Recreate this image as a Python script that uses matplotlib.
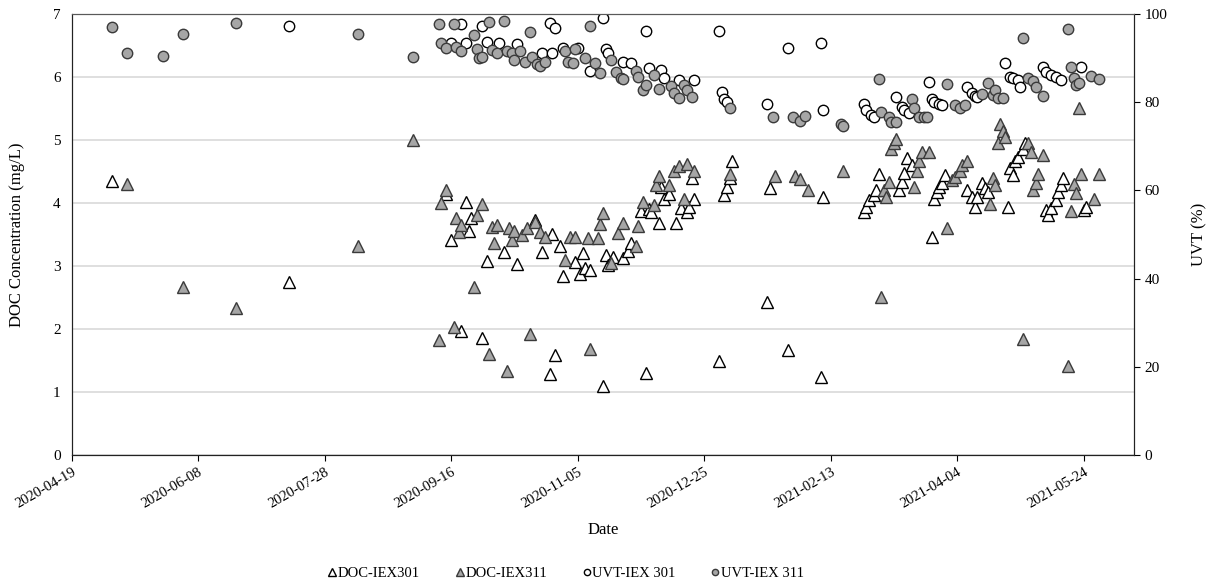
## Module imports
import numpy as np
import pandas as pd
import matplotlib
matplotlib.use('Agg')
import matplotlib.pyplot as plt
import matplotlib.dates as mdates

plt.rcParams['font.family'] = ['Liberation Serif', 'DejaVu Serif']

## Data (sampling day counted from 2020-04-19)
t0 = pd.Timestamp('2020-04-19')

doc301_day = [16, 86, 148, 156, 150, 157, 158, 154, 162, 164, 171, 176, 183, 186, 189, 190, 191, 193,
              194, 199, 201, 202, 203, 205, 210, 211, 212, 214, 218, 220, 221, 225, 227, 228, 229, 232,
              233, 234, 236, 239, 241, 243, 245, 244, 246, 256, 258, 259, 260, 261, 275, 276, 283, 296,
              297, 313, 314, 315, 317, 318, 319, 327, 328, 329, 330, 332, 340, 341, 342, 343, 344, 345,
              354, 356, 357, 358, 360, 361, 362, 370, 371, 372, 373, 374, 376, 377, 385, 386, 387, 389,
              390, 391, 392, 400, 401]
doc301 = [4.35, 2.75, 4.14, 4.02, 3.41, 3.56, 3.76, 1.96, 1.85, 3.08, 3.22, 3.03, 3.73, 3.22, 1.28, 3.51,
          1.59, 3.31, 2.84, 3.07, 2.87, 3.20, 2.96, 2.94, 1.10, 3.17, 3.02, 3.15, 3.12, 3.23, 3.36, 3.88,
          1.30, 3.90, 3.86, 3.68, 4.26, 4.07, 4.15, 3.68, 3.92, 3.86, 4.39, 3.94, 4.06, 1.49, 4.13, 4.25,
          4.39, 4.67, 2.43, 4.23, 1.66, 1.24, 4.10, 3.86, 3.94, 4.05, 4.13, 4.21, 4.46, 4.21, 4.34, 4.47,
          4.71, 4.60, 3.46, 4.07, 4.18, 4.25, 4.31, 4.44, 4.21, 4.09, 3.94, 4.09, 4.31, 4.23, 4.18, 3.94,
          4.55, 4.44, 4.66, 4.73, 4.85, 4.95, 3.89, 3.81, 3.92, 4.05, 4.18, 4.29, 4.39, 3.89, 3.93]

doc311_day = [22, 44, 65, 113, 135, 145, 146, 148, 151, 152, 153, 154, 159, 160, 162, 165, 166, 167, 168,
              172, 173, 174, 175, 178, 180, 181, 183, 185, 187, 195, 197, 199, 204, 205, 208, 209, 210,
              213, 216, 218, 223, 224, 226, 230, 231, 232, 236, 238, 240, 242, 243, 246, 260, 278, 286,
              288, 291, 305, 320, 321, 322, 323, 324, 325, 326, 333, 334, 335, 336, 339, 346, 348, 349,
              351, 352, 354, 363, 364, 365, 366, 367, 368, 369, 376, 378, 379, 380, 381, 382, 384, 394,
              395, 396, 397, 398, 399, 404, 406]
doc311 = [4.30, 2.66, 2.33, 3.31, 5.00, 1.83, 4.00, 4.20, 2.03, 3.76, 3.54, 3.65, 2.67, 3.81, 3.98, 1.60,
          3.62, 3.36, 3.65, 1.34, 3.60, 3.41, 3.56, 3.49, 3.61, 1.92, 3.70, 3.54, 3.46, 3.10, 3.46, 3.46,
          3.44, 1.68, 3.44, 3.67, 3.84, 3.04, 3.52, 3.68, 3.32, 3.63, 4.02, 3.97, 4.29, 4.43, 4.29, 4.51,
          4.58, 4.06, 4.62, 4.50, 4.46, 4.43, 4.43, 4.38, 4.21, 4.51, 2.50, 4.21, 4.10, 4.34, 4.85, 4.95,
          5.01, 4.25, 4.50, 4.66, 4.81, 4.81, 3.61, 4.37, 4.41, 4.50, 4.60, 4.66, 3.99, 4.39, 4.29, 4.95,
          5.25, 5.15, 5.05, 1.84, 4.95, 4.81, 4.21, 4.32, 4.46, 4.76, 1.41, 3.88, 4.30, 4.16, 5.50, 4.46,
          4.06, 4.46]

uvt301_day = [86, 154, 162, 189, 191, 210, 227, 150, 156, 164, 169, 176, 186, 190, 194, 200, 205, 211,
              212, 218, 221, 228, 233, 234, 240, 246, 256, 257, 258, 259, 275, 283, 296, 297, 313, 314,
              316, 317, 326, 328, 329, 331, 339, 340, 341, 343, 344, 354, 356, 357, 358, 369, 371, 372,
              374, 375, 384, 385, 387, 389, 391, 399]
uvt301 = [97.3, 97.7, 97.3, 98.0, 96.8, 99.0, 96.2, 93.4, 93.4, 93.7, 93.4, 93.1, 91.1, 91.1, 92.2, 92.2,
          87.1, 92.0, 91.1, 89.2, 89.0, 87.7, 87.3, 85.4, 85.0, 85.0, 96.2, 82.2, 80.7, 80.0, 79.5, 92.2,
          93.4, 78.2, 79.7, 78.2, 77.1, 76.7, 81.1, 79.0, 78.2, 77.5, 84.5, 80.7, 80.1, 79.7, 79.4, 83.5,
          82.0, 81.4, 81.2, 89.0, 85.8, 85.4, 85.0, 83.5, 87.9, 86.9, 86.2, 85.8, 85.0, 87.9]

uvt311_day = [16, 22, 36, 44, 65, 113, 135, 145, 151, 165, 171, 159, 181, 205, 146, 148, 152, 154, 160,
              161, 162, 166, 168, 172, 174, 175, 177, 179, 182, 184, 185, 187, 195, 196, 198, 199, 203,
              207, 209, 213, 215, 217, 218, 223, 224, 226, 227, 230, 232, 237, 238, 240, 242, 243, 245,
              260, 277, 285, 288, 290, 304, 305, 319, 320, 323, 324, 326, 332, 333, 335, 337, 338, 346,
              349, 351, 353, 360, 362, 364, 365, 366, 368, 376, 378, 380, 381, 384, 394, 395, 396, 397,
              398, 403, 406]
uvt311 = [97.1, 91.2, 90.5, 95.5, 98.0, 95.5, 90.3, 97.7, 97.7, 98.3, 98.5, 95.2, 95.9, 97.3, 93.4, 92.2,
          92.5, 91.7, 92.0, 90.0, 90.2, 91.8, 91.1, 91.5, 91.1, 89.6, 91.5, 89.2, 90.3, 88.6, 88.1, 89.2,
          91.5, 89.2, 89.0, 92.0, 90.0, 88.8, 86.6, 89.6, 86.9, 85.4, 85.3, 87.1, 85.8, 82.8, 83.9, 86.2,
          82.9, 83.7, 82.0, 80.9, 83.9, 82.8, 81.1, 78.6, 76.6, 76.6, 75.8, 76.9, 75.1, 74.7, 85.2, 77.8,
          76.7, 75.6, 75.4, 80.7, 78.6, 76.7, 76.6, 76.6, 84.1, 79.4, 78.6, 79.4, 81.9, 84.3, 81.6, 82.8,
          80.9, 80.9, 94.5, 85.4, 84.8, 83.4, 81.4, 96.6, 87.9, 85.4, 83.9, 84.3, 85.9, 85.2]


def to_dates(days):
    return t0 + pd.to_timedelta(days, unit='D')


## Plot
fig, ax = plt.subplots(figsize=(12.17, 5.84), dpi=100)
fig.subplots_adjust(left=0.059, right=0.932, top=0.976, bottom=0.221)
ax2 = ax.twinx()

gray = '#a6a6a6'
edge = '#3a3a3a'
h1, = ax.plot(to_dates(doc301_day), doc301, '^', ms=8.5, mfc='white', mec='black', mew=1.0,
              ls='none', label='DOC-IEX301')
h2, = ax.plot(to_dates(doc311_day), doc311, '^', ms=8.5, mfc=gray, mec=edge, mew=1.0,
              ls='none', label='DOC-IEX311')
h3, = ax2.plot(to_dates(uvt301_day), uvt301, 'o', ms=7.5, mfc='white', mec='black', mew=1.0,
               ls='none', label='UVT-IEX 301')
h4, = ax2.plot(to_dates(uvt311_day), uvt311, 'o', ms=7.5, mfc=gray, mec=edge, mew=1.0,
               ls='none', label='UVT-IEX 311')

# left axis
ax.set_ylim(0, 7)
ax.set_yticks(range(0, 8))
ax.yaxis.grid(True, color='#d9d9d9', lw=1.2)
ax.set_axisbelow(True)
ax.tick_params(axis='y', length=0, labelsize=11, pad=8)
ax.set_ylabel('DOC Concentration (mg/L)', fontsize=12, labelpad=20)

# right axis
ax2.set_ylim(0, 100)
ax2.set_yticks(range(0, 101, 20))
ax2.tick_params(axis='y', length=4, labelsize=11, direction='out')
ax2.set_ylabel('UVT (%)', fontsize=12, labelpad=17)

# x axis, ticks every 50 days
ax.set_xlim(t0, t0 + pd.Timedelta(days=420))
xt = [t0 + pd.Timedelta(days=50 * k) for k in range(9)]
ax.set_xticks(xt)
ax.xaxis.set_major_formatter(mdates.DateFormatter('%Y-%m-%d'))
ax.tick_params(axis='x', length=4, labelsize=10.5)
plt.setp(ax.get_xticklabels(), rotation=30, ha='right', rotation_mode='anchor')
ax.set_xlabel('Date', fontsize=12, labelpad=8)

for a in (ax, ax2):
    a.spines['top'].set_color('#595959')
    a.spines['left'].set_color('#222222')
    a.spines['right'].set_color('#222222')
    a.spines['bottom'].set_color('#222222')

fig.legend(handles=[h1, h2, h3, h4], loc='lower center', bbox_to_anchor=(0.465, -0.015), ncol=4,
           frameon=False, fontsize=10.5, markerscale=0.6, handlelength=0.6, handletextpad=0.1,
           columnspacing=2.4)

plt.savefig('out.png', dpi=100)
